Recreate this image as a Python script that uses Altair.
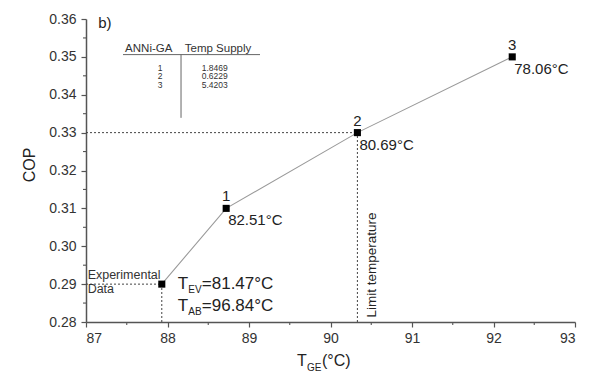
import altair as alt
import pandas as pd

FONT = "Liberation Sans"

# ---- data ----
x_vals = [87.93, 88.72, 90.33, 92.23]
cop_vals = [0.29, 0.31, 0.33, 0.35]
point_ids = ["", "1", "2", "3"]
temp_labels = ["", "82.51°C", "80.69°C", "78.06°C"]

x_ticks = [87, 88, 89, 90, 91, 92, 93]
y_ticks = [0.28, 0.29, 0.30, 0.31, 0.32, 0.33, 0.34, 0.35, 0.36]
x_minor = [87.5, 88.5, 89.5, 90.5, 91.5, 92.5]
y_minor = [0.285, 0.295, 0.305, 0.315, 0.325, 0.335, 0.345, 0.355]

table_ids = ["1", "2", "3"]
table_values = ["1.8469", "0.6229", "5.4203"]
table_row_y = [0.3464, 0.34415, 0.3419]

X0, X1 = 87, 93
Y0, Y1 = 0.28, 0.36

xs = alt.Scale(domain=[X0, X1], nice=False, zero=False)
ys = alt.Scale(domain=[Y0, Y1], nice=False, zero=False)
ax_x = alt.Axis(values=x_ticks, title=None, format="d", labelPadding=4)
ax_y = alt.Axis(values=y_ticks, title=None, format=".2f", labelPadding=5)


def X(f):
    return alt.X(f"{f}:Q", scale=xs, axis=ax_x)


def Y(f):
    return alt.Y(f"{f}:Q", scale=ys, axis=ax_y)


pts = pd.DataFrame({"x": x_vals, "y": cop_vals, "id": point_ids, "t": temp_labels})

line = alt.Chart(pts).mark_line(color="#9a9a9a", strokeWidth=1.1).encode(x=X("x"), y=Y("y"))
squares = alt.Chart(pts).mark_square(color="black", size=50, opacity=1).encode(x=X("x"), y=Y("y"))

ids = alt.Chart(pts).mark_text(font=FONT, fontSize=15, color="#222", dy=-12, baseline="middle").encode(
    x=X("x"), y=Y("y"), text="id:N")
temps = alt.Chart(pts).mark_text(font=FONT, fontSize=15, color="#222", dx=2, dy=12, align="left",
                                  baseline="middle").encode(x=X("x"), y=Y("y"), text="t:N")

# dotted guide lines (from experimental point and point 2)
hguides = pd.DataFrame({"x": [X0, X0], "x2": [x_vals[0], x_vals[2]], "y": [cop_vals[0], cop_vals[2]]})
vguides = pd.DataFrame({"x": [x_vals[0], x_vals[2]], "y": [Y0, Y0], "y2": [cop_vals[0], cop_vals[2]]})
hg = alt.Chart(hguides).mark_rule(color="#444", strokeDash=[2, 2], strokeWidth=1).encode(
    x=X("x"), x2="x2", y=Y("y"))
vg = alt.Chart(vguides).mark_rule(color="#444", strokeDash=[2, 2], strokeWidth=1).encode(
    x=X("x"), y=Y("y"), y2="y2")

# minor ticks
xm = alt.Chart(pd.DataFrame({"x": x_minor})).mark_rule(color="#555", strokeWidth=1.1).encode(
    x=X("x"), y=alt.value(303), y2=alt.value(306))
ym = alt.Chart(pd.DataFrame({"y": y_minor})).mark_rule(color="#555", strokeWidth=1.1).encode(
    y=Y("y"), x=alt.value(0), x2=alt.value(-3))

# table
tbl_head = pd.DataFrame({"x": [87.77, 88.62], "y": [0.3513, 0.3513], "t": ["ANNi-GA", "Temp Supply"]})
th = alt.Chart(tbl_head).mark_text(font=FONT, fontSize=11.5, color="#333", baseline="alphabetic").encode(
    x=X("x"), y=Y("y"), text="t:N")
tbl_rows = pd.DataFrame({"x1": [87.91] * 3, "x2": [88.58] * 3, "y": table_row_y,
                         "id": table_ids, "v": table_values})
tr1 = alt.Chart(tbl_rows).mark_text(font=FONT, fontSize=8.5, color="#333", baseline="alphabetic").encode(
    x=X("x1"), y=Y("y"), text="id:N")
tr2 = alt.Chart(tbl_rows).mark_text(font=FONT, fontSize=8.5, color="#333", baseline="alphabetic").encode(
    x=X("x2"), y=Y("y"), text="v:N")
tl_h = alt.Chart(pd.DataFrame({"x": [87.454], "x2": [89.135], "y": [0.3506]})).mark_rule(
    color="#666", strokeWidth=1).encode(x=X("x"), x2="x2", y=Y("y"))
tl_v = alt.Chart(pd.DataFrame({"x": [88.166], "y": [0.3339], "y2": [0.3506]})).mark_rule(
    color="#666", strokeWidth=1).encode(x=X("x"), y=Y("y"), y2="y2")

# annotations
panel = alt.Chart(pd.DataFrame({"x": [87.15], "y": [0.3576], "t": ["b)"]})).mark_text(
    font=FONT, fontSize=15, color="#222", align="left", baseline="alphabetic").encode(
    x=X("x"), y=Y("y"), text="t:N")
exp_txt = alt.Chart(pd.DataFrame({"x": [87.02, 87.02], "y": [0.2914, 0.2876],
                                  "t": ["Experimental", "Data"]})).mark_text(
    font=FONT, fontSize=12.5, color="#333", align="left", baseline="alphabetic").encode(
    x=X("x"), y=Y("y"), text="t:N")

ex = pd.DataFrame({"x": [x_vals[0]], "y": [cop_vals[0]]})


def at_exp(txt, dx, dy, size):
    return alt.Chart(ex).mark_text(font=FONT, fontSize=size, color="#222", align="left",
                                   baseline="alphabetic", dx=dx, dy=dy, text=txt).encode(
        x=X("x"), y=Y("y"))


tev = [at_exp("T", 16, 5, 17), at_exp("EV", 26.5, 9, 10), at_exp("=81.47°C", 40, 5, 17)]
tab = [at_exp("T", 16, 27, 17), at_exp("AB", 26.5, 31, 10), at_exp("=96.84°C", 40, 27, 17)]

limit = alt.Chart(pd.DataFrame({"x": [90.51], "y": [0.2812], "t": ["Limit temperature"]})).mark_text(
    font=FONT, fontSize=13.5, color="#222", angle=270, align="left", baseline="middle").encode(
    x=X("x"), y=Y("y"), text="t:N")

# axis titles
cop_title = alt.Chart(ex).mark_text(font=FONT, fontSize=16, color="#222", angle=270, baseline="middle",
                                    text="COP").encode(x=alt.value(-56), y=alt.value(146))
xt = [
    alt.Chart(ex).mark_text(font=FONT, fontSize=16, color="#222", align="left", baseline="alphabetic",
                            text="T").encode(x=alt.value(211), y=alt.value(347)),
    alt.Chart(ex).mark_text(font=FONT, fontSize=10, color="#222", align="left", baseline="alphabetic",
                            text="GE").encode(x=alt.value(221), y=alt.value(352)),
    alt.Chart(ex).mark_text(font=FONT, fontSize=16, color="#222", align="left", baseline="alphabetic",
                            text="(°C)").encode(x=alt.value(236), y=alt.value(347)),
]

chart = alt.layer(
    line, hg, vg, squares, ids, temps, xm, ym, th, tr1, tr2, tl_h, tl_v, panel, exp_txt,
    *tev, *tab, limit, cop_title, *xt
).properties(
    width=489, height=303,
    autosize=alt.AutoSizeParams(type="none"),
    padding={"left": 78, "top": 11, "right": 6, "bottom": 50},
).configure_view(stroke=None).configure_axis(
    grid=False, domainColor="#555", domainWidth=1.5, tickColor="#555", tickSize=5, tickWidth=1.2,
    labelFont=FONT, labelFontSize=14, labelColor="#333",
)

chart.save("out.html", embed_options={"renderer": "svg", "actions": False})
